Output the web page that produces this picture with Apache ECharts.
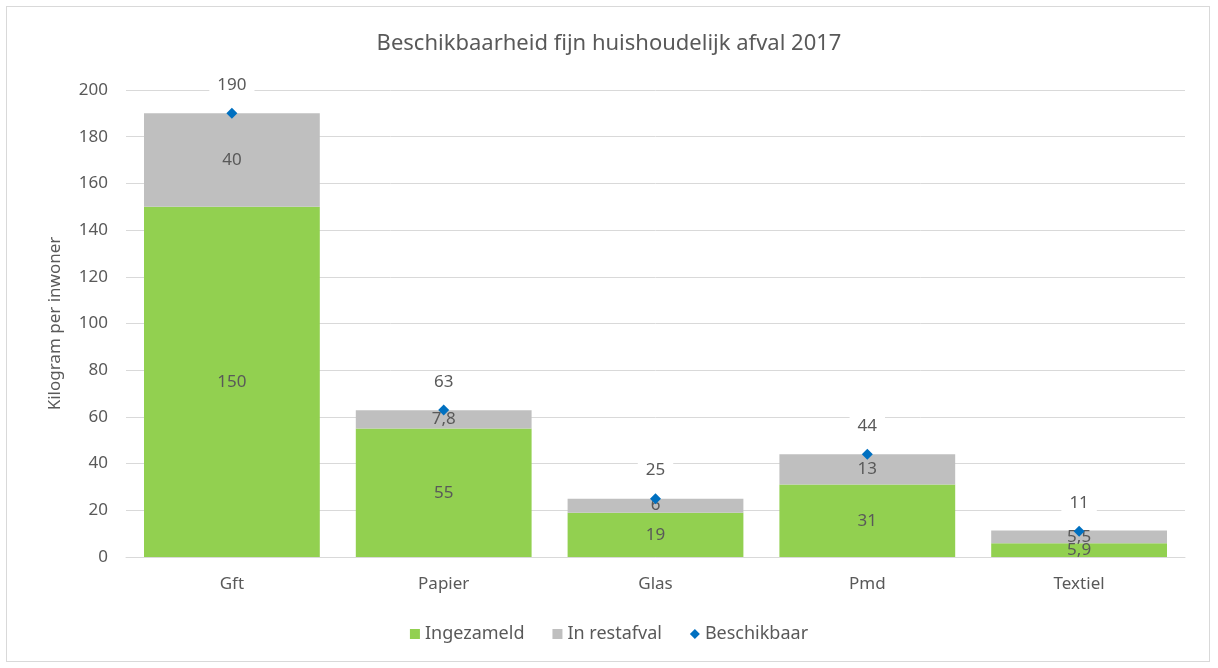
<!DOCTYPE html>
<html>
<head>
<meta charset="utf-8">
<script src="https://cdn.jsdelivr.net/npm/echarts@6/dist/echarts.min.js"></script>
<style>
    html, body { margin: 0; padding: 0; background: #fff; }
    #frame { position: absolute; left: 6px; top: 6px; width: 1202px; height: 654px; border: 1px solid #D9D9D9; }
    #chart { position: absolute; left: 0; top: 0; width: 1218px; height: 668px; }
</style>
</head>
<body>
<div id="frame"></div>
<div id="chart"></div>
<script>
    let categories = ['Gft', 'Papier', 'Glas', 'Pmd', 'Textiel'];
    let ingezameld = [150, 55, 19, 31, 5.9];
    let inRestafval = [40, 7.8, 6, 13, 5.5];
    let beschikbaar = [190, 63, 25, 44, 11];

    let textColor = '#595959';
    let fontName = '"Noto Sans", "Open Sans", sans-serif';

    function nlNumber(p) {
        return String(p.value).replace('.', ',');
    }

    let chart = echarts.init(document.getElementById('chart'));
    chart.setOption({
        animation: false,
        textStyle: { fontFamily: fontName, color: textColor },
        title: {
            text: 'Beschikbaarheid fijn huishoudelijk afval 2017',
            left: 'center',
            top: 28,
            textStyle: { fontFamily: fontName, fontSize: 22, fontWeight: 'normal', color: textColor }
        },
        legend: {
            bottom: 20,
            left: 'center',
            itemWidth: 10,
            itemHeight: 10,
            itemGap: 28,
            textStyle: { fontSize: 18, color: textColor },
            data: [
                { name: 'Ingezameld', icon: 'rect' },
                { name: 'In restafval', icon: 'rect' },
                { name: 'Beschikbaar', icon: 'diamond' }
            ]
        },
        grid: { left: 126, right: 33, top: 90, bottom: 111 },
        xAxis: {
            type: 'category',
            data: categories,
            axisTick: { show: false },
            axisLine: { lineStyle: { color: '#D9D9D9' } },
            axisLabel: { fontSize: 17, color: textColor, margin: 19 }
        },
        yAxis: {
            type: 'value',
            min: 0,
            max: 200,
            interval: 20,
            name: 'Kilogram per inwoner',
            nameLocation: 'middle',
            nameGap: 62,
            nameTextStyle: { fontSize: 17, color: textColor },
            axisLine: { show: false },
            axisTick: { show: false },
            axisLabel: { fontSize: 17, color: textColor, margin: 18 },
            splitLine: { lineStyle: { color: '#D9D9D9' } }
        },
        series: [
            {
                name: 'Ingezameld',
                type: 'bar',
                stack: 'afval',
                barCategoryGap: '17%',
                itemStyle: { color: '#92D050' },
                label: { show: true, position: 'inside', fontSize: 17, color: textColor, formatter: nlNumber },
                data: ingezameld
            },
            {
                name: 'In restafval',
                type: 'bar',
                stack: 'afval',
                itemStyle: { color: '#BFBFBF' },
                label: { show: true, position: 'inside', fontSize: 17, color: textColor, formatter: nlNumber },
                data: inRestafval
            },
            {
                name: 'Beschikbaar',
                type: 'line',
                symbol: 'diamond',
                symbolSize: 11,
                lineStyle: { opacity: 0 },
                itemStyle: { color: '#0070C0' },
                label: {
                    show: true,
                    position: 'top',
                    distance: 12,
                    fontSize: 17,
                    color: textColor,
                    backgroundColor: '#fff',
                    padding: [2, 8],
                    formatter: nlNumber
                },
                z: 5,
                data: beschikbaar
            }
        ]
    });
</script>
</body>
</html>
